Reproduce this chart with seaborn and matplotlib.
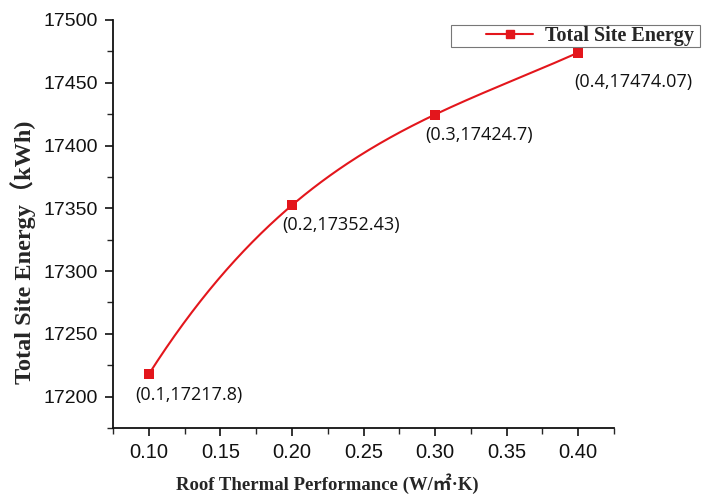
import numpy as np
import pandas as pd
import matplotlib
matplotlib.use('Agg')
import matplotlib.pyplot as plt
from matplotlib.ticker import MultipleLocator, AutoMinorLocator
from matplotlib.legend_handler import HandlerLine2D
import seaborn as sns

# data
roof_u = [0.1, 0.2, 0.3, 0.4]
site_energy = [17217.8, 17352.43, 17424.7, 17474.07]
point_labels = ['(0.1,17217.8)', '(0.2,17352.43)', '(0.3,17424.7)', '(0.4,17474.07)']
x_ticks = [0.10, 0.15, 0.20, 0.25, 0.30, 0.35, 0.40]
x_ticklabels = ['0.10', '0.15', '0.20', '0.25', '0.30', '0.35', '0.40']

df = pd.DataFrame({'u': roof_u, 'energy': site_energy})

sns.set_style('ticks')
plt.rcParams['font.family'] = ['Liberation Sans', 'DejaVu Sans']

red = '#e3161c'
serif = ['Liberation Serif', 'Noto Sans CJK SC', 'DejaVu Sans']

fig = plt.figure(figsize=(7.05, 4.99), dpi=100)
ax = fig.add_axes([113 / 705, 1 - 428 / 499, 501 / 705, 408 / 499])

# smooth line through the four points (cubic through the data, like Origin's spline)
coef = np.polyfit(df['u'], df['energy'], 3)
xs = np.linspace(df['u'].min(), df['u'].max(), 200)
ax.plot(xs, np.polyval(coef, xs), color=red, lw=1.5, zorder=2)
sns.scatterplot(data=df, x='u', y='energy', marker='s', s=48, color=red,
                edgecolor=red, linewidth=0, ax=ax, zorder=3)

# label offsets in points (text left edge / centre line relative to the marker)
label_offsets = [(-10, -15), (-7, -14.5), (-7, -15), (-3, -21.5)]
for x, y, t, off in zip(roof_u, site_energy, point_labels, label_offsets):
    ax.annotate(t, (x, y), xytext=off, textcoords='offset points',
                ha='left', va='center', fontsize=13,
                family=['Open Sans', 'DejaVu Sans'], color='#111111')

# legend proxy
ax.plot([], [], color=red, lw=1.5, marker='s', markersize=6, label='Total Site Energy ')
leg = ax.legend(loc='upper right', bbox_to_anchor=((700 - 113) / 501, (428 - 25) / 408),
                frameon=True, fancybox=False, edgecolor='#555555',
                handlelength=4.0, borderpad=0.06, handletextpad=0.6,
                borderaxespad=0,
                handler_map={matplotlib.lines.Line2D: HandlerLine2D(xpad=1.7)},
                prop={'family': serif, 'weight': 'bold', 'size': 14.5})
leg.get_frame().set_linewidth(0.8)

ax.set_xlim(0.075, 0.425)
ax.set_ylim(17175, 17500)
ax.set_xticks(x_ticks)
ax.set_xticklabels(x_ticklabels)
ax.xaxis.set_minor_locator(AutoMinorLocator(2))
ax.yaxis.set_major_locator(MultipleLocator(50))
ax.yaxis.set_minor_locator(AutoMinorLocator(2))
ax.tick_params(axis='both', which='major', direction='out', length=6, width=1.2,
               colors='#111111', pad=5)
ax.tick_params(axis='y', which='major', labelsize=14)
ax.tick_params(axis='x', which='major', labelsize=14.5)
ax.tick_params(axis='both', which='minor', direction='out', length=4, width=1.0)

sns.despine(ax=ax)
for s in ['left', 'bottom']:
    ax.spines[s].set_linewidth(1.3)
    ax.spines[s].set_color('#111111')

ax.set_xlabel('Roof Thermal Performance (W/㎡·K)', family=serif, weight='bold',
              fontsize=13.5)
ax.set_ylabel('Total Site Energy（kWh)', family=serif, weight='bold',
              fontsize=17.5)
ax.xaxis.set_label_coords((327 - 113) / 501, -(484 - 428) / 408)
ax.yaxis.set_label_coords(-(113 - 23) / 501, (428 - 252) / 408)
ax.xaxis.label.set_va('center')
ax.yaxis.label.set_va('center')

fig.savefig('out.png', dpi=100)
